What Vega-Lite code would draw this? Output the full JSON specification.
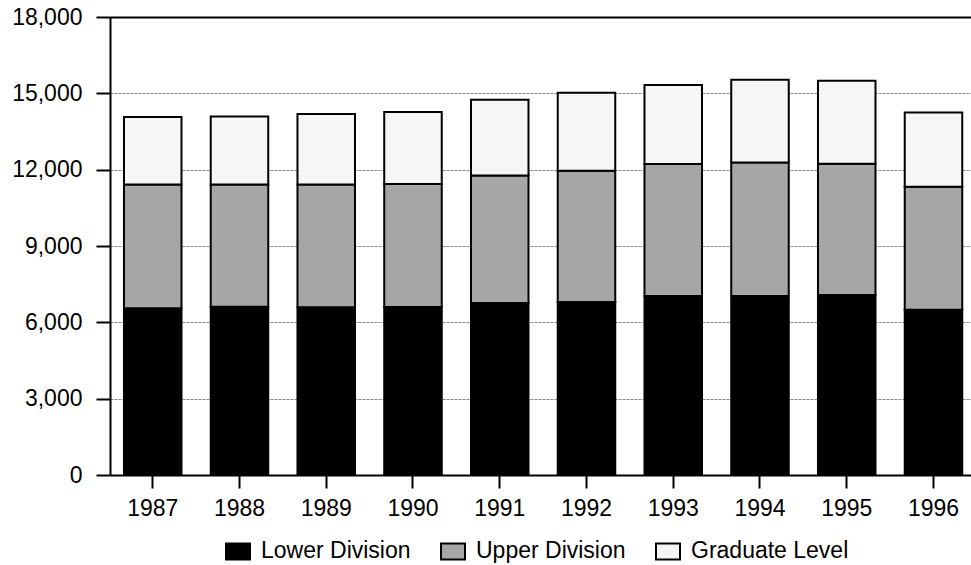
{
  "$schema": "https://vega.github.io/schema/vega-lite/v6.json",
  "width": 861,
  "height": 458,
  "padding": {"left": 11, "top": 6, "right": 0, "bottom": 0},
  "background": "white",
  "config": {
    "font": "Liberation Sans",
    "view": {"stroke": null},
    "axis": {"labelFont": "Liberation Sans", "labelColor": "black", "labelFontSize": 23, "domainColor": "black", "domainWidth": 2, "tickColor": "black", "tickWidth": 2, "title": null}
  },
  "data": {
    "values": [
      {"year": "1987", "level": "Lower Division", "students": 6550},
      {"year": "1987", "level": "Upper Division", "students": 4870},
      {"year": "1987", "level": "Graduate Level", "students": 2646},
      {"year": "1988", "level": "Lower Division", "students": 6617},
      {"year": "1988", "level": "Upper Division", "students": 4803},
      {"year": "1988", "level": "Graduate Level", "students": 2670},
      {"year": "1989", "level": "Lower Division", "students": 6590},
      {"year": "1989", "level": "Upper Division", "students": 4830},
      {"year": "1989", "level": "Graduate Level", "students": 2764},
      {"year": "1990", "level": "Lower Division", "students": 6605},
      {"year": "1990", "level": "Upper Division", "students": 4830},
      {"year": "1990", "level": "Graduate Level", "students": 2828},
      {"year": "1991", "level": "Lower Division", "students": 6762},
      {"year": "1991", "level": "Upper Division", "students": 5011},
      {"year": "1991", "level": "Graduate Level", "students": 2973},
      {"year": "1992", "level": "Lower Division", "students": 6800},
      {"year": "1992", "level": "Upper Division", "students": 5158},
      {"year": "1992", "level": "Graduate Level", "students": 3063},
      {"year": "1993", "level": "Lower Division", "students": 7037},
      {"year": "1993", "level": "Upper Division", "students": 5184},
      {"year": "1993", "level": "Graduate Level", "students": 3102},
      {"year": "1994", "level": "Lower Division", "students": 7037},
      {"year": "1994", "level": "Upper Division", "students": 5247},
      {"year": "1994", "level": "Graduate Level", "students": 3247},
      {"year": "1995", "level": "Lower Division", "students": 7076},
      {"year": "1995", "level": "Upper Division", "students": 5157},
      {"year": "1995", "level": "Graduate Level", "students": 3259},
      {"year": "1996", "level": "Lower Division", "students": 6499},
      {"year": "1996", "level": "Upper Division", "students": 4831},
      {"year": "1996", "level": "Graduate Level", "students": 2917}
    ]
  },
  "transform": [
    {"calculate": "indexof(['Lower Division', 'Upper Division', 'Graduate Level'], datum.level)", "as": "stackOrder"}
  ],
  "mark": {"type": "bar", "stroke": "black", "strokeWidth": 2},
  "encoding": {
    "x": {
      "field": "year", "type": "nominal",
      "scale": {"paddingInner": 0.337, "paddingOuter": 0.131, "align": 0.615},
      "axis": {"labelAngle": 0, "tickSize": 13, "labelPadding": 9, "grid": false}
    },
    "y": {
      "field": "students", "type": "quantitative", "stack": "zero",
      "scale": {"domain": [0, 18000], "nice": false},
      "axis": {
        "values": [0, 3000, 6000, 9000, 12000, 15000, 18000],
        "format": ",d",
        "tickSize": 14,
        "labelPadding": 14,
        "grid": true,
        "gridColor": {"condition": {"test": "datum.value === 18000", "value": "black"}, "value": "#8c8c8c"},
        "gridWidth": {"condition": {"test": "datum.value === 18000", "value": 2}, "value": 1},
        "gridDash": {"condition": {"test": "datum.value === 18000", "value": []}, "value": [3, 1]}
      }
    },
    "fill": {
      "field": "level", "type": "nominal",
      "sort": ["Lower Division", "Upper Division", "Graduate Level"],
      "scale": {"domain": ["Lower Division", "Upper Division", "Graduate Level"], "range": ["#000000", "#a6a6a6", "#f6f6f6"]},
      "legend": {
        "title": null,
        "orient": "none",
        "legendX": 115,
        "legendY": 521,
        "direction": "horizontal",
        "labelFont": "Liberation Sans",
        "labelFontSize": 23,
        "labelColor": "black",
        "labelOffset": 10,
        "columnPadding": 26,
        "symbolType": "M-1,-0.667H1V0.667H-1Z",
        "symbolSize": 576,
        "symbolStrokeColor": "black",
        "symbolStrokeWidth": 2
      }
    },
    "order": {"field": "stackOrder", "type": "quantitative", "sort": "ascending"}
  }
}
